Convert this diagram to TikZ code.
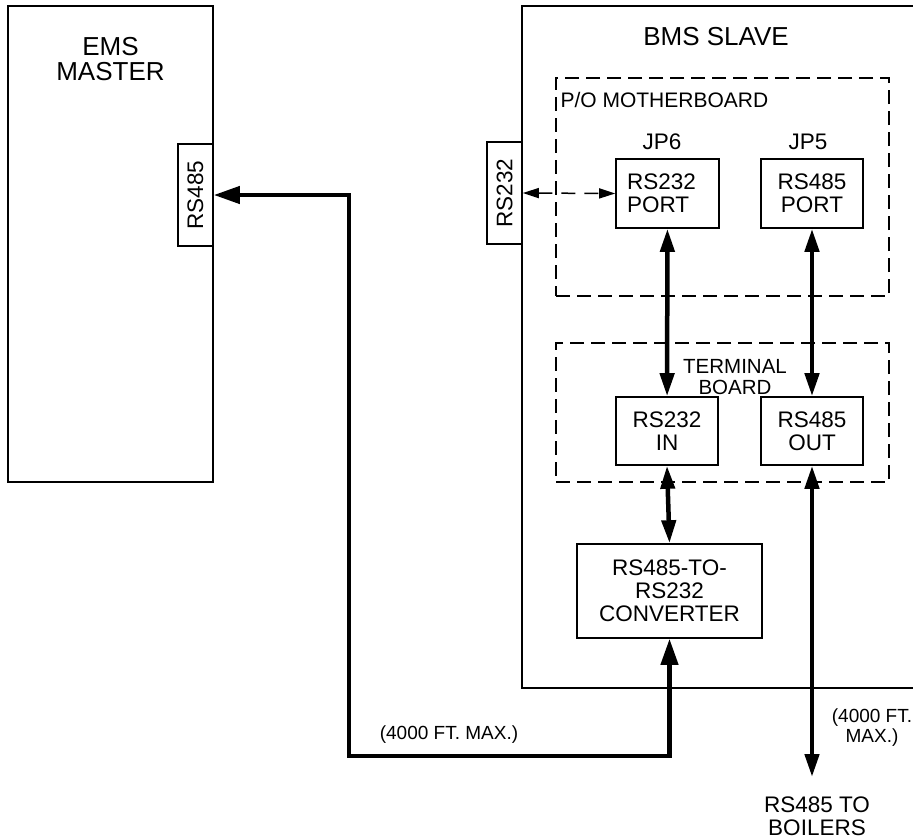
\documentclass[tikz,border=0pt]{standalone}
\usepackage{fontspec}
\setmainfont{Liberation Sans}
\usetikzlibrary{positioning,arrows.meta}

\begin{document}
\begin{tikzpicture}[x=1pt, y=-1pt,
  font=\fontsize{22.5}{23}\selectfont,
  box/.style={draw, line width=1.6pt, align=center, inner sep=0pt},
  tab/.style={draw, line width=1.6pt, fill=white, rotate=90, minimum width=102pt, minimum height=35pt, inner sep=0pt},
  board/.style={draw, line width=1.2pt, dash pattern=on 14pt off 7pt},
  big/.style={font=\fontsize{26}{25}\selectfont, align=center},
  small/.style={font=\fontsize{19}{20}\selectfont, align=center},
  link/.style={line width=4.5pt, {Triangle[length=23pt,width=14pt]}-{Triangle[length=23pt,width=14pt]}},
  dlink/.style={line width=1.5pt, dash pattern=on 14pt off 9pt, {Triangle[length=16pt,width=10pt]}-{Triangle[length=16pt,width=10pt]}},
  wire/.style={line width=4.2pt, {Triangle[length=26pt,width=17pt]}-{Triangle[length=26pt,width=17pt]}}]
  \useasboundingbox (0,0) rectangle (913,839);
  % EMS master side
  \node[box, minimum width=205pt, minimum height=476pt] (ems) at (110.5,244) {};
  \node[big] (emstitle) at (110.5,59) {EMS\\MASTER};
  \node[tab] (tab485) at (195.5,195) {RS485};
  % BMS slave cabinet, open to the right
  \coordinate (bmsne) at (913,6);
  \coordinate (bmsse) at (913,688);
  \draw[line width=1.6pt] (bmsne) -| (522,688) -- (bmsse);
  \node[big] (bmstitle) at (716,37) {BMS SLAVE};
  \node[tab] (tab232) at (504.5,193) {RS232};
  % motherboard
  \node[board, minimum width=333pt, minimum height=218pt] (mobo) at (722.5,187) {};
  \node[font=\fontsize{21}{22}\selectfont, anchor=west] (mobotxt) at (557,100) {P/O MOTHERBOARD};
  \node[box, align=left, text width=81pt, minimum width=103pt, minimum height=69pt] (port232) at (667.5,193.5) {RS232\\PORT};
  \node[box, minimum width=102pt, minimum height=69pt] (port485) at (812,193.5) {RS485\\PORT};
  \node (jp6) at (662,142) {JP6};
  \node (jp5) at (808,142) {JP5};
  % terminal board
  \node[board, minimum width=333pt, minimum height=139pt] (term) at (722.5,412.5) {};
  \node[font=\fontsize{20.5}{21}\selectfont, align=center] (termtxt) at (735,377) {TERMINAL\\BOARD};
  \node[box, minimum width=102pt, minimum height=68pt] (in232) at (667,431) {RS232\\IN};
  \node[box, minimum width=102pt, minimum height=68pt] (out485) at (812,431) {RS485\\OUT};
  % converter
  \node[box, minimum width=185pt, minimum height=94pt] (conv) at (669.5,591) {RS485-TO-\\RS232\\CONVERTER};
  % boilers
  \coordinate (boilend) at (812,777);
  \node (boil) at (817,816) [align=center] {RS485 TO\\BOILERS};
  \node[small] (lenb) at (872,728) {(4000 FT.\\MAX.)};
  % connections
  \coordinate (bend) at (349,756);
  \draw[wire] (tab485.south) -| (bend) -| (conv.south);
  \node[small] (lena) at (449,735) {(4000 FT. MAX.)};
  \draw[dlink] (tab232.south) -- (port232.west);
  \draw[link] (port232) -- (in232);
  \draw[link] (port485) -- (out485);
  \draw[link] (in232.south) -- (conv.north);
  \draw[link] (out485.south) -- (boilend);
\end{tikzpicture}
\end{document}
